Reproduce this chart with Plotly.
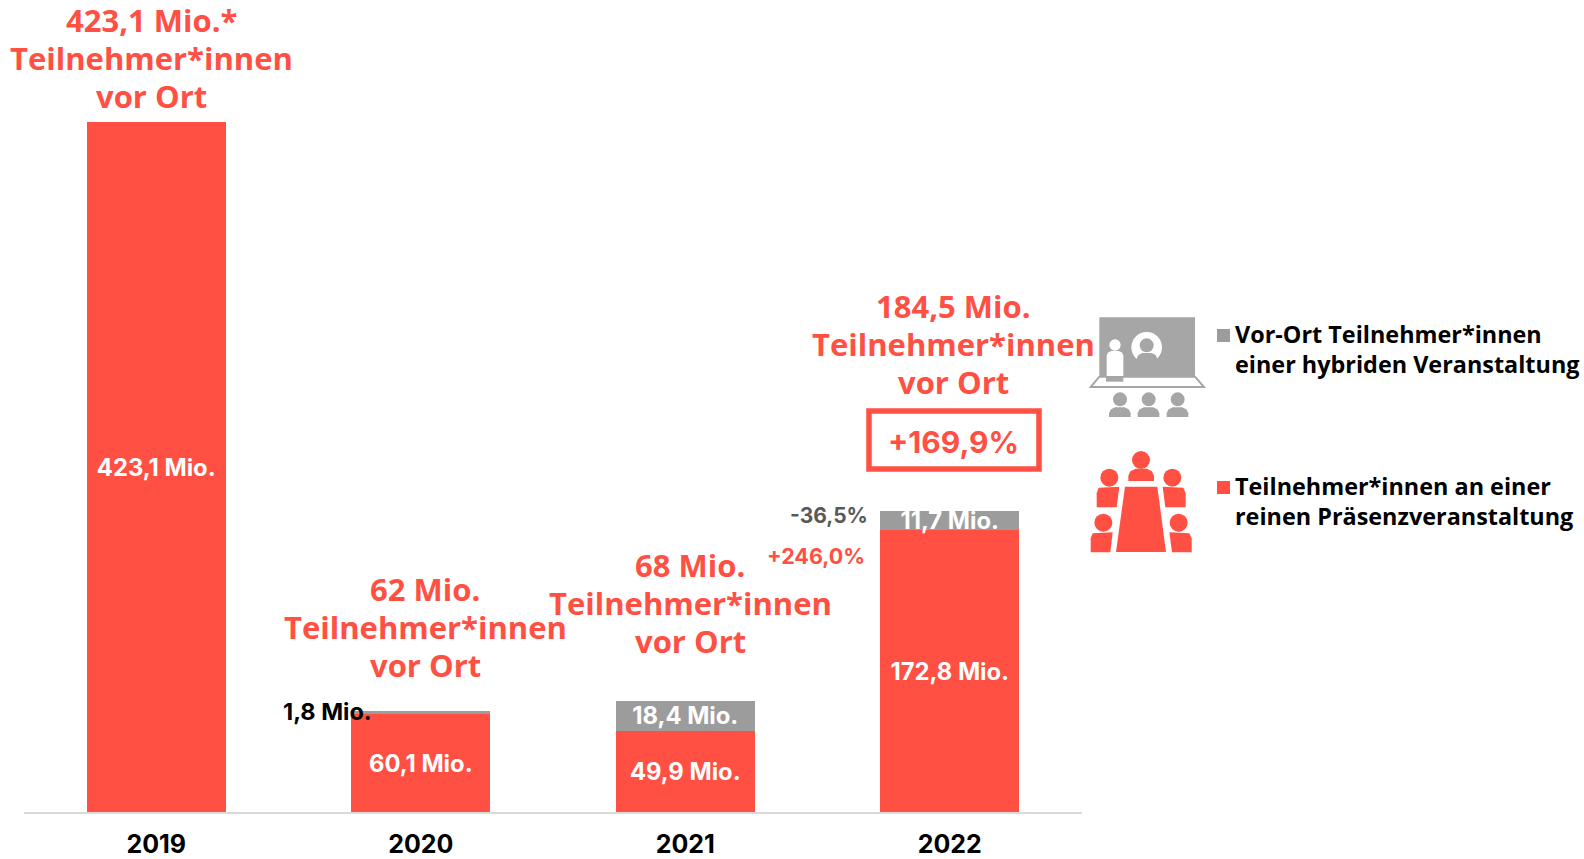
import plotly.graph_objects as go

W, H = 1584, 859
L, R, T, B = 24, 1082, 0, 812
RED = "#FF5043"
GREY = "#9D9C9D"
ICON_GREY = "#A6A6A6"
FONT = "Inter"
WIDE = "Open Sans"

years = ["2019", "2020", "2021", "2022"]
praesenz = [423.1, 60.1, 49.9, 172.8]
hybrid = [None, 1.8, 18.4, 11.7]
praesenz_labels = ["423,1 Mio.", "60,1 Mio.", "49,9 Mio.", "172,8 Mio."]
hybrid_labels = ["", "", "18,4 Mio.", "11,7 Mio."]
small_label = "1,8 Mio."
totals = ["423,1 Mio.*", "62 Mio.", "68 Mio.", "184,5 Mio."]
total_suffix = ["Teilnehmer*innen", "vor Ort"]
total_pos = [(151.5, 58), (425, 626.5), (690, 602.5), (953.5, 343.5)]
legend_labels = ["Vor-Ort Teilnehmer*innen<br>einer hybriden Veranstaltung",
                 "Teilnehmer*innen an einer<br>reinen Präsenzveranstaltung"]
legend_y = [349, 501]


def px(x):
    return (x - L) / (R - L)


def py(y):
    return (B - y) / (B - T)


def zx(v):
    return 1080 + v / 3


def zy(v):
    return 300 + v / 3


def poly(points, fill, line=None, lw=0):
    d = "M" + " L".join(f"{px(zx(a)):.5f},{py(zy(b)):.5f}" for a, b in points) + " Z"
    return dict(type="path", xref="paper", yref="paper", path=d, fillcolor=fill,
                line=dict(color=line or fill, width=lw), layer="above")


def circle(cx, cy, r, fill):
    return dict(type="circle", xref="paper", yref="paper",
                x0=px(zx(cx - r)), x1=px(zx(cx + r)),
                y0=py(zy(cy + r)), y1=py(zy(cy - r)),
                fillcolor=fill, line=dict(width=0), layer="above")


def shoulders(x0, x1, y0, y1, fill):
    """Rounded-top person body, in zoom-crop units."""
    w = x1 - x0
    c = min(w * 0.38, y1 - y0)
    return poly([(x0, y1), (x0, y0 + c * 0.75), (x0 + w * 0.08, y0 + c * 0.3),
                 (x0 + w * 0.28, y0 + 1), (x0 + w * 0.72, y0 + 1),
                 (x0 + w * 0.92, y0 + c * 0.3), (x1, y0 + c * 0.75), (x1, y1)], fill)


def px_rect(x0, y0, x1, y1, fill, line=None, lw=0):
    return dict(type="rect", xref="paper", yref="paper", x0=px(x0), x1=px(x1),
                y0=py(y1), y1=py(y0), fillcolor=fill,
                line=dict(color=line or fill, width=lw), layer="above")


fig = go.Figure()
fig.add_bar(x=years, y=praesenz, marker=dict(color=RED, line=dict(width=0)),
            name="Teilnehmer*innen an einer reinen Präsenzveranstaltung",
            text=praesenz_labels, textposition="inside",
            insidetextanchor="middle", constraintext="none", textangle=0,
            insidetextfont=dict(color="white", size=23.8, family=FONT, weight=700),
            hoverinfo="skip")
fig.add_bar(x=years, y=hybrid, marker=dict(color=GREY, line=dict(width=0)),
            name="Vor-Ort Teilnehmer*innen einer hybriden Veranstaltung",
            text=hybrid_labels, textposition="inside",
            insidetextanchor="middle", constraintext="none", textangle=0,
            insidetextfont=dict(color="white", size=23.8, family=FONT, weight=700),
            hoverinfo="skip")

shapes = [
    px_rect(869, 411, 1039, 469, "white", RED, 5.5),
    px_rect(1217, 329, 1230, 342, GREY),
    px_rect(1217, 481, 1230, 494, RED),
    poly([(58, 52), (345, 52), (345, 228), (58, 228)], ICON_GREY),
    poly([(58, 230), (345, 230), (372, 261), (32, 261)], "white", ICON_GREY, 2),
    circle(200, 142, 46, "white"),
    circle(200, 136, 21, ICON_GREY),
    shoulders(170, 232, 158, 192, ICON_GREY),
    circle(105, 135, 17, "white"),
    shoulders(80, 130, 152, 228, "white"),
    poly([(78, 228), (130, 228), (130, 245), (78, 245)], ICON_GREY),
]
for cx in (120, 206, 293):
    shapes += [circle(cx, 298, 21, ICON_GREY), shoulders(cx - 33, cx + 32, 321, 351, ICON_GREY)]

shapes += [
    circle(183, 480, 27, RED),
    shoulders(145, 222, 505, 543, RED),
    poly([(135, 560), (232, 560), (258, 756), (108, 756)], RED),
    circle(88, 533, 27, RED),
    poly([(56, 563), (118, 560), (110, 622), (50, 622), (50, 580)], RED),
    circle(277, 533, 27, RED),
    poly([(248, 560), (310, 563), (317, 580), (317, 622), (256, 622)], RED),
    circle(70, 668, 27, RED),
    poly([(38, 700), (98, 697), (91, 757), (32, 757), (32, 715)], RED),
    circle(296, 668, 27, RED),
    poly([(268, 697), (328, 700), (335, 715), (335, 757), (276, 757)], RED),
]

ann = []


def text(x, y, s, size, color, anchor="center", weight=700, family=FONT):
    ann.append(dict(xref="paper", yref="paper", x=px(x), y=py(y), text=s, showarrow=False,
                    xanchor=anchor, yanchor="middle", align="left" if anchor == "left" else anchor,
                    font=dict(family=family, size=size, color=color, weight=weight)))


for label, (x, y) in zip(totals, total_pos):
    for k, line in enumerate([label] + total_suffix):
        text(x, y + (k - 1) * 38, line, 31, RED, family=WIDE)
text(327, 711, small_label, 23.5, "black")
text(870, 515, "-36,5%", 21, "#595959", "right")
text(867, 556, "+246,0%", 21.5, RED, "right")
text(953.5, 441.5, "+169,9%", 30, RED)
for label, y in zip(legend_labels, legend_y):
    text(1233, y, label, 23.4, "black", "left", family=WIDE)

fig.update_layout(
    width=W, height=H, autosize=False, barmode="stack", bargap=0.475,
    showlegend=False, plot_bgcolor="white", paper_bgcolor="white",
    margin=dict(l=L, r=W - R, t=T, b=H - B, pad=0),
    font=dict(family=FONT),
    shapes=shapes, annotations=ann,
    xaxis=dict(type="category", range=[-0.5, 3.5], showline=True, linecolor="#D9D9D9", linewidth=2,
               ticks="", showgrid=False, zeroline=False, ticklabelstandoff=9, automargin=False,
               tickfont=dict(family=FONT, size=25, color="black", weight=700)),
    yaxis=dict(range=[0, (B - T) / 1.63], visible=False, showgrid=False, zeroline=False,
               automargin=False),
)
fig.write_html("out.html", config=dict(displayModeBar=False),
               post_script="document.body.style.margin = '0';")
